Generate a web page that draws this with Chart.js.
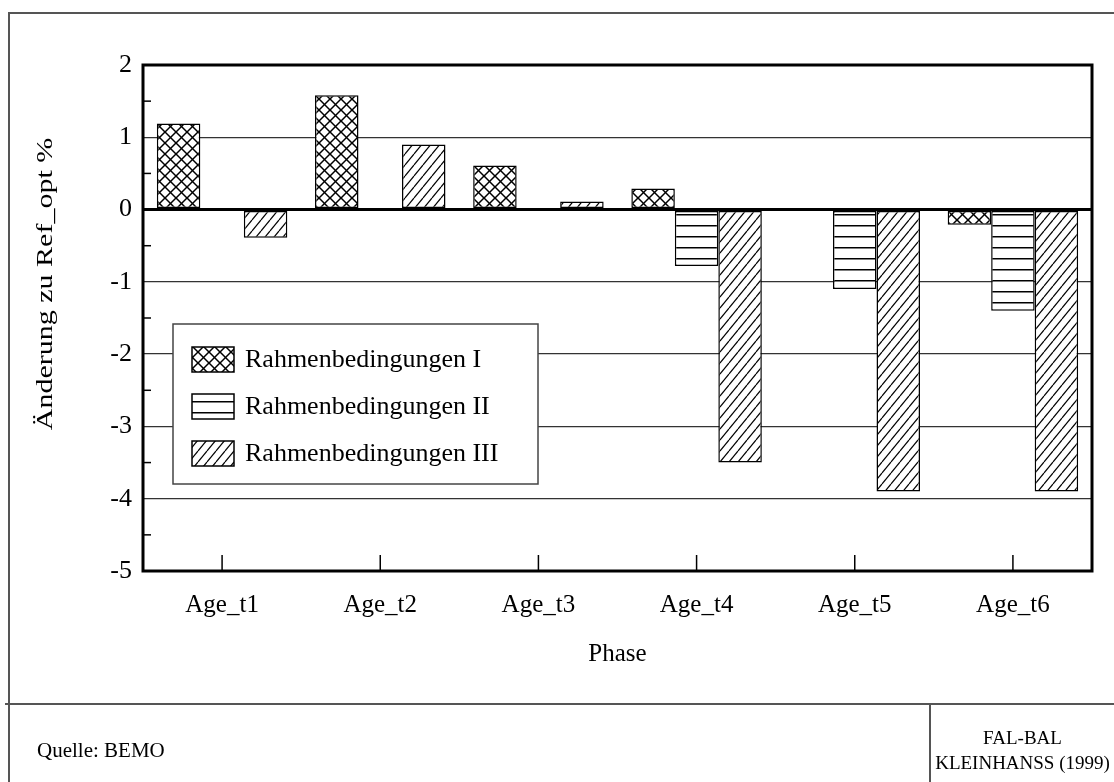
<!DOCTYPE html>
<html>
<head>
<meta charset="utf-8">
<script src="https://cdn.jsdelivr.net/npm/chart.js@4.4.0/dist/chart.umd.min.js"></script>
<style>
  body { margin: 0; background: #fff; }
  #wrap { position: relative; width: 1114px; height: 782px; overflow: hidden; }
  #wrap canvas { position: absolute; left: 0; top: 0; }
  .rule { position: absolute; background: #555; }
  .foot { position: absolute; font-family: "Liberation Serif", serif; color: #000; white-space: nowrap; line-height: 1; }
</style>
</head>
<body>
<div id="wrap">
  <canvas id="chart" width="1114" height="782"></canvas>
  <div class="rule" style="left:8px;top:12px;width:1106px;height:2px"></div>
  <div class="rule" style="left:8px;top:12px;width:2px;height:770px"></div>
  <div class="rule" style="left:5px;top:703px;width:1109px;height:2px"></div>
  <div class="rule" style="left:929px;top:704px;width:2px;height:78px"></div>
  <div class="foot" style="left:37px;top:740px;font-size:21px">Quelle: BEMO</div>
  <div class="foot" style="left:931px;width:183px;top:725px;font-size:19px;text-align:center;line-height:25px">FAL-BAL<br>KLEINHANSS (1999)</div>
</div>
<script>
const phases = ['Age_t1', 'Age_t2', 'Age_t3', 'Age_t4', 'Age_t5', 'Age_t6'];
const rahmenI = [1.19, 1.58, 0.61, 0.29, 0, -0.21];
const rahmenII = [0, 0, 0, -0.78, -1.1, -1.4];
const rahmenIII = [-0.39, 0.9, 0.11, -3.5, -3.9, -3.9];
const seriesNames = ['Rahmenbedingungen I', 'Rahmenbedingungen II', 'Rahmenbedingungen III'];
const yTitle = 'Änderung zu Ref_opt %';
const xTitle = 'Phase';

const serif = '"Liberation Serif", "Times New Roman", serif';

function makePattern(kind) {
  const c = document.createElement('canvas');
  const g = c.getContext('2d');
  if (kind === 'cross') {
    c.width = 11; c.height = 11;
    g.fillStyle = '#fff'; g.fillRect(0, 0, 11, 11);
    g.strokeStyle = '#000'; g.lineWidth = 1.5;
    for (let k = -1; k <= 1; k++) {
      g.beginPath(); g.moveTo(k * 11, 0); g.lineTo(k * 11 + 11, 11); g.stroke();
      g.beginPath(); g.moveTo(k * 11, 11); g.lineTo(k * 11 + 11, 0); g.stroke();
    }
  } else if (kind === 'horiz') {
    c.width = 4; c.height = 11;
    g.fillStyle = '#fff'; g.fillRect(0, 0, 4, 11);
    g.fillStyle = '#000'; g.fillRect(0, 5, 4, 1.5);
  } else {
    c.width = 9; c.height = 11;
    g.fillStyle = '#fff'; g.fillRect(0, 0, 9, 11);
    g.strokeStyle = '#000'; g.lineWidth = 1.2;
    for (let k = -1; k <= 1; k++) {
      g.beginPath(); g.moveTo(k * 9, 11); g.lineTo(k * 9 + 9, 0); g.stroke();
    }
  }
  return document.getElementById('chart').getContext('2d').createPattern(c, 'repeat');
}

const fills = [makePattern('cross'), makePattern('horiz'), makePattern('diag')];

// inside ticks, frame, legend and the y title
const decor = {
  id: 'decor',
  afterDraw(chart) {
    const { ctx, chartArea: a, scales: { x, y } } = chart;
    ctx.save();
    ctx.strokeStyle = '#000';
    ctx.lineWidth = 1.5;
    for (let v = y.min + 0.5; v < y.max; v += 1) {
      const py = y.getPixelForValue(v);
      ctx.beginPath(); ctx.moveTo(a.left, py); ctx.lineTo(a.left + 8, py); ctx.stroke();
    }
    phases.forEach((p, i) => {
      const px = x.getPixelForValue(i);
      ctx.beginPath(); ctx.moveTo(px, a.bottom); ctx.lineTo(px, a.bottom - 16); ctx.stroke();
    });

    ctx.lineWidth = 3;
    ctx.strokeRect(a.left, a.top, a.right - a.left, a.bottom - a.top);

    // legend box
    const lx = 173, ly = 324, lw = 365, lh = 160;
    ctx.fillStyle = '#fff';
    ctx.fillRect(lx, ly, lw, lh);
    ctx.strokeStyle = '#444';
    ctx.lineWidth = 1.5;
    ctx.strokeRect(lx, ly, lw, lh);
    ctx.font = '26px ' + serif;
    ctx.textBaseline = 'middle';
    ctx.textAlign = 'left';
    chart.data.datasets.forEach((ds, i) => {
      const cy = 359 + i * 47;
      ctx.fillStyle = ds.backgroundColor;
      ctx.fillRect(192, cy - 12, 42, 25);
      ctx.strokeStyle = '#000';
      ctx.lineWidth = 1.5;
      ctx.strokeRect(192, cy - 12, 42, 25);
      ctx.fillStyle = '#000';
      ctx.fillText(ds.label, 245, cy + 1);
    });

    // y axis title
    ctx.translate(46, 284);
    ctx.rotate(-Math.PI / 2);
    ctx.scale(1.25, 1);
    ctx.font = '24px ' + serif;
    ctx.textAlign = 'center';
    ctx.fillStyle = '#000';
    ctx.fillText(yTitle, 0, 0);
    ctx.restore();
  }
};

new Chart(document.getElementById('chart'), {
  type: 'bar',
  data: {
    labels: phases,
    datasets: [rahmenI, rahmenII, rahmenIII].map((vals, i) => ({
      label: seriesNames[i],
      data: vals,
      backgroundColor: fills[i],
      borderColor: '#000',
      borderWidth: 1.5,
      borderSkipped: false,
      categoryPercentage: 0.825,
      barPercentage: 1.0
    }))
  },
  options: {
    responsive: false,
    animation: false,
    devicePixelRatio: 1,
    layout: { padding: { left: 0, top: 65, right: 22, bottom: 100 } },
    plugins: { legend: { display: false }, tooltip: { enabled: false } },
    scales: {
      x: {
        grid: { display: false },
        border: { display: false },
        ticks: { color: '#000', font: { family: serif, size: 25 }, padding: 11 },
        title: { display: true, text: xTitle, color: '#000', font: { family: serif, size: 25 }, padding: { bottom: 13 } },
        afterFit(scale) { scale.height = 111; }
      },
      y: {
        min: -5,
        max: 2,
        ticks: { stepSize: 1, color: '#000', font: { family: serif, size: 26 }, padding: 11 },
        grid: {
          drawTicks: false,
          color: ctx => ctx.tick.value === 0 ? '#000' : '#333',
          lineWidth: ctx => ctx.tick.value === 0 ? 3 : 1.3
        },
        border: { display: false },
        afterFit(scale) { scale.width = 143; }
      }
    }
  },
  plugins: [decor]
});
</script>
</body>
</html>
